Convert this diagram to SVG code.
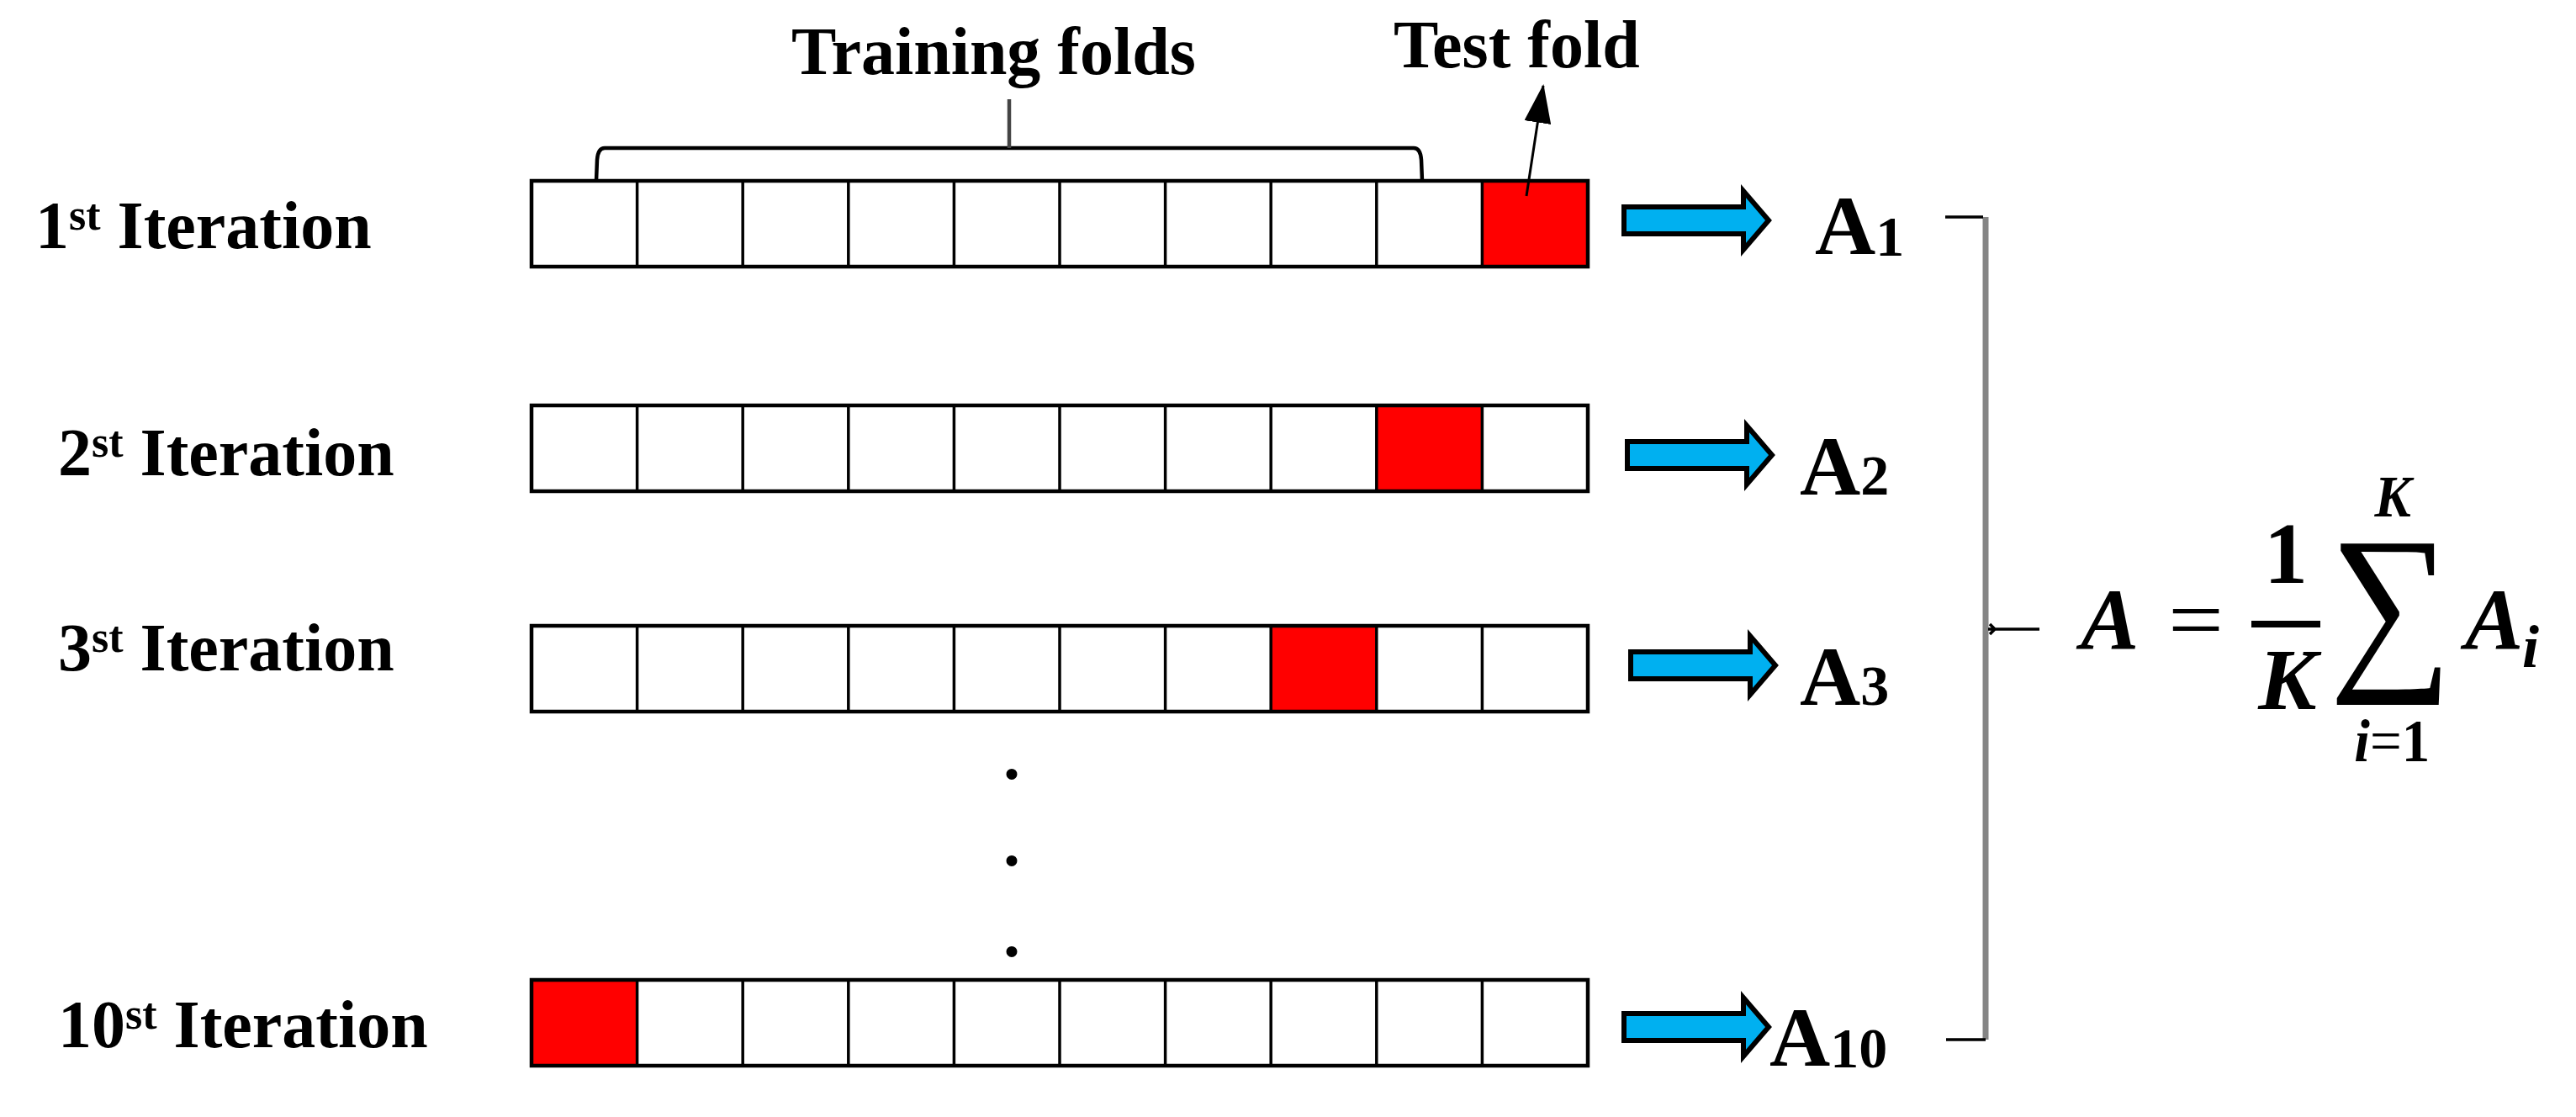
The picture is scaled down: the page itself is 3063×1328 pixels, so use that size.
<svg xmlns="http://www.w3.org/2000/svg" xmlns:xlink="http://www.w3.org/1999/xlink" width="3063" height="1328" viewBox="0 0 3063 1328">
<style>
  .lbl { font-family: "Liberation Serif", "Times New Roman", serif; font-weight: bold; font-size: 80px; fill: #000; }
  .acc { font-family: "Liberation Serif", "Times New Roman", serif; font-weight: bold; fill: #000; }
  .math { font-family: "Liberation Serif", "Times New Roman", serif; fill: #000; }
  .bi { font-weight: bold; font-style: italic; }
  .b { font-weight: bold; }
  .red { fill: #FF0000; }
  .outer { fill: none; stroke: #000; stroke-width: 4.5; }
  .div { fill: none; stroke: #000; stroke-width: 3.5; }
  .blue { fill: #00B0F0; stroke: #000; stroke-width: 6; stroke-linejoin: miter; }
</style>
<defs>
  <g id="bar">
    <path class="div" d="M125.6 0V102M251.2 0V102M376.8 0V102M502.4 0V102M628 0V102M753.6 0V102M879.2 0V102M1004.8 0V102M1130.4 0V102"/>
    <rect class="outer" x="0" y="0" width="1256" height="102"/>
  </g>
  <path id="blueArrow" class="blue" d="M0 -16H142V-35L172 0L142 35V16H0Z"/>
  <marker id="tri" markerUnits="userSpaceOnUse" markerWidth="46" markerHeight="32" viewBox="0 0 46 32" refX="44" refY="16" orient="auto">
    <path d="M0 0L46 16L0 32Z" fill="#000"/>
  </marker>
</defs>
<rect width="3063" height="1328" fill="#fff"/>

<g id="row1">
  <text class="lbl" x="42" y="295">1<tspan font-size="52" dy="-22">st</tspan><tspan dy="22"> Iteration</tspan></text>
  <rect class="red" x="1762.4" y="215" width="125.6" height="102"/>
  <use xlink:href="#bar" x="632" y="215"/>
</g>
<g id="row2">
  <text class="lbl" x="69" y="565">2<tspan font-size="52" dy="-22">st</tspan><tspan dy="22"> Iteration</tspan></text>
  <rect class="red" x="1636.8" y="482" width="125.6" height="102"/>
  <use xlink:href="#bar" x="632" y="482"/>
</g>
<g id="row3">
  <text class="lbl" x="69" y="797">3<tspan font-size="52" dy="-22">st</tspan><tspan dy="22"> Iteration</tspan></text>
  <rect class="red" x="1511.2" y="744" width="125.6" height="102"/>
  <use xlink:href="#bar" x="632" y="744"/>
</g>
<g id="dots">
  <text class="lbl" x="1203" y="926" text-anchor="middle">.</text>
  <text class="lbl" x="1203" y="1029" text-anchor="middle">.</text>
  <text class="lbl" x="1203" y="1137" text-anchor="middle">.</text>
</g>
<g id="row10">
  <text class="lbl" x="69" y="1245">10<tspan font-size="52" dy="-22">st</tspan><tspan dy="22"> Iteration</tspan></text>
  <rect class="red" x="632" y="1165" width="125.6" height="102"/>
  <use xlink:href="#bar" x="632" y="1165"/>
</g>

<g id="training-folds">
  <text class="lbl" x="941" y="88">Training folds</text>
  <path d="M709 215L710 190Q711 176 719 176H1681Q1689 176 1690 190L1691 215" fill="none" stroke="#000" stroke-width="4.5"/>
  <path d="M1200 118V176" fill="none" stroke="#444" stroke-width="4.5"/>
</g>
<g id="test-fold">
  <text class="lbl" x="1657" y="80">Test fold</text>
</g>

<g id="accuracies">
  <text class="acc" x="2158" y="302" font-size="100">A<tspan font-size="68" dy="2">1</tspan></text>
  <text class="acc" x="2140" y="588" font-size="100">A<tspan font-size="68">2</tspan></text>
  <text class="acc" x="2140" y="838" font-size="100">A<tspan font-size="68">3</tspan></text>
  <text class="acc" x="2104" y="1267" font-size="100">A<tspan font-size="68" dy="2">10</tspan></text>
</g>

<g id="connectors">
  <line x1="1815" y1="233" x2="1835" y2="102" stroke="#000" stroke-width="3" marker-end="url(#tri)"/>
  <use xlink:href="#blueArrow" x="1931" y="262"/>
  <use xlink:href="#blueArrow" x="1935" y="541"/>
  <use xlink:href="#blueArrow" x="1939" y="791"/>
  <use xlink:href="#blueArrow" x="1931" y="1221"/>
  <g id="brace">
    <path d="M2361 258V1236" fill="none" stroke="#858585" stroke-width="7"/>
    <path d="M2313 258H2358M2361 1236H2314M2364 748H2425M2366 742L2372 748L2366 754" fill="none" stroke="#000" stroke-width="3.5"/>
  </g>
</g>

<g id="formula">
  <text class="math bi" x="2474" y="772" font-size="104">A</text>
  <text class="math" x="2578" y="772" font-size="104" textLength="66" lengthAdjust="spacingAndGlyphs">=</text>
  <text class="math b" x="2718" y="693" font-size="104" text-anchor="middle">1</text>
  <line x1="2677" y1="742" x2="2759" y2="742" stroke="#000" stroke-width="8"/>
  <text class="math bi" x="2720" y="843" font-size="104" text-anchor="middle">K</text>
  <text class="math" transform="translate(2777,791) scale(0.93,1)" x="-8" y="0" font-size="221">∑<tspan class="bi" font-size="70" x="50" y="-177">K</tspan><tspan class="bi" font-size="72" x="24" y="114">i</tspan><tspan font-size="72">=</tspan><tspan class="b" font-size="72">1</tspan></text>
  <text class="math bi" x="2931" y="772" font-size="104">A</text>
  <text class="math bi" x="2999" y="793" font-size="72">i</text>
</g>
</svg>
